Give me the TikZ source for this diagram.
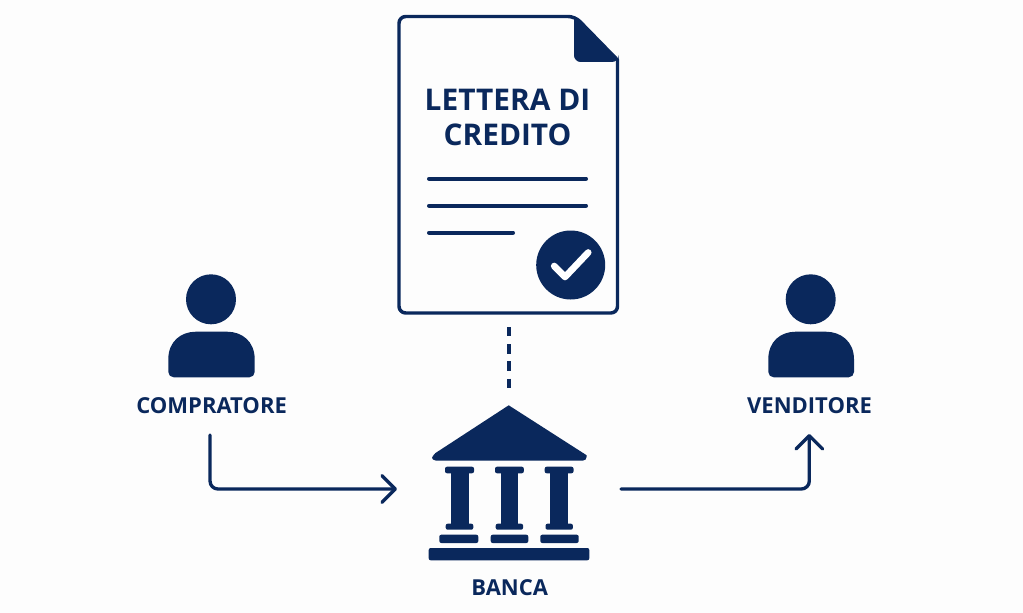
\documentclass[tikz,border=0pt]{standalone}
\usepackage{fontspec}
\setmainfont{Open Sans}
\usetikzlibrary{positioning}
\usetikzlibrary{arrows.meta}
\definecolor{navy}{HTML}{0A285C}
\definecolor{paper}{HTML}{FDFDFD}
\tikzset{
  outline/.style={navy, line width=2.6pt, line join=round},
  textline/.style={navy, line width=3pt, line cap=round},
  flow/.style={navy, line width=2.5pt, line cap=round, rounded corners=6pt, -{Straight Barb[length=10pt, width=20pt, round]}},
  link/.style={navy, line width=2.8pt, dash pattern=on 7pt off 5.9pt},
  solid part/.style={fill=navy, draw=none},
  title text/.style={text=navy, font=\fontsize{22.4}{26.2}\selectfont\bfseries, align=center, inner sep=0pt},
  name text/.style={text=navy, font=\fontsize{16.5}{20}\selectfont\bfseries, inner sep=0pt}
}

\begin{document}
\begin{tikzpicture}[x=0.75pt, y=-0.75pt]
\useasboundingbox[fill=paper] (0, 0) rectangle (1023, 613);

\coordinate (doc) at (399, 16.5);
\draw[outline, rounded corners=5pt] ([shift={(90, 0)}]doc) -- ([shift={(176, 0)}]doc) [sharp corners]-- ([shift={(218.5, 43.5)}]doc) [rounded corners=5pt]-- ([shift={(218.5, 296.5)}]doc) -- ([shift={(0, 296.5)}]doc) -- (doc) -- cycle;
\fill[solid part, rounded corners=5pt] ([shift={(175, 0)}]doc) -- ([shift={(175, 45.5)}]doc) -- ([shift={(219.5, 45.5)}]doc) [sharp corners]-- ([shift={(219.5, 43.5)}]doc) -- ([shift={(176, 0)}]doc) -- cycle;
\node[title text] (title) at (507.5, 117) {LETTERA DI\\CREDITO};
\draw[textline] ([shift={(30, 162.2)}]doc) -- ([shift={(187, 162.2)}]doc);
\draw[textline] ([shift={(30, 189.2)}]doc) -- ([shift={(187, 189.2)}]doc);
\draw[textline] ([shift={(30, 216.2)}]doc) -- ([shift={(114, 216.2)}]doc);
\coordinate (seal) at (570.7, 265);
\fill[solid part] (seal) circle (34.5);
\draw[white, line width=5pt, line cap=round, line join=round] ([shift={(-16.5, 1)}]seal) -- ([shift={(-5.7, 12)}]seal) -- ([shift={(17.5, -12.5)}]seal);

\coordinate (docfoot) at (508.7, 327);
\coordinate (roofup) at (508.7, 388);
\draw[link] (docfoot) -- (roofup);

\coordinate (bank) at (508.7, 405.3);
\fill[solid part] (bank) -- ([shift={(78, 50)}]bank) [rounded corners=3pt]-- ([shift={(78, 55.4)}]bank) -- ([shift={(-76.7, 55.4)}]bank) -- ([shift={(-76.7, 50)}]bank) [sharp corners]-- cycle;

\coordinate (pillarA) at (459.6, 466.7);
\fill[solid part, rounded corners=1.5pt] ([shift={(-14.6, 0)}]pillarA) rectangle ([shift={(14.4, 6.6)}]pillarA);
\fill[solid part] ([shift={(-9, 3)}]pillarA) rectangle ([shift={(9, 60)}]pillarA);
\fill[solid part, rounded corners=1.5pt] ([shift={(-13.9, 57)}]pillarA) rectangle ([shift={(13.7, 63)}]pillarA);
\fill[solid part, rounded corners=1.5pt] (439.3, 534.7) rectangle (478.3, 543);

\coordinate (pillarB) at (509.4, 466.7);
\fill[solid part, rounded corners=1.5pt] ([shift={(-14.4, 0)}]pillarB) rectangle ([shift={(14.4, 6.6)}]pillarB);
\fill[solid part] ([shift={(-8.9, 3)}]pillarB) rectangle ([shift={(8.9, 60)}]pillarB);
\fill[solid part, rounded corners=1.5pt] ([shift={(-13.7, 57)}]pillarB) rectangle ([shift={(13.7, 63)}]pillarB);
\fill[solid part, rounded corners=1.5pt] (490.7, 534.7) rectangle (528.3, 543);

\coordinate (pillarC) at (559.2, 466.7);
\fill[solid part, rounded corners=1.5pt] ([shift={(-14.5, 0)}]pillarC) rectangle ([shift={(14.3, 6.6)}]pillarC);
\fill[solid part] ([shift={(-8.9, 3)}]pillarC) rectangle ([shift={(9.1, 60)}]pillarC);
\fill[solid part, rounded corners=1.5pt] ([shift={(-13.7, 57)}]pillarC) rectangle ([shift={(13.7, 63)}]pillarC);
\fill[solid part, rounded corners=1.5pt] (540.3, 534.7) rectangle (578.7, 543);

\fill[solid part, rounded corners=1.5pt] (428.7, 548) rectangle (589.3, 560.3);
\node[name text] (banca) at (509.7, 587.5) {BANCA};

\coordinate (buyer) at (211, 299.3);
\fill[solid part] (buyer) circle (25);
\fill[solid part] ([shift={(-42.7, 60)}]buyer) .. controls ([shift={(-42.7, 42)}]buyer) and ([shift={(-30, 32.4)}]buyer) .. ([shift={(-15, 32.4)}]buyer) -- ([shift={(16, 32.4)}]buyer) .. controls ([shift={(31, 32.4)}]buyer) and ([shift={(43.7, 42)}]buyer) .. ([shift={(43.7, 60)}]buyer) [rounded corners=4pt]-- ([shift={(43.7, 78)}]buyer) -- ([shift={(-42.7, 78)}]buyer) [sharp corners]-- cycle;
\node[name text] (comp) at (211.6, 405.5) {COMPRATORE};

\coordinate (seller) at (810.7, 299.3);
\fill[solid part] (seller) circle (25);
\fill[solid part] ([shift={(-42.4, 60)}]seller) .. controls ([shift={(-42.4, 42)}]seller) and ([shift={(-30, 32.4)}]seller) .. ([shift={(-15, 32.4)}]seller) -- ([shift={(15, 32.4)}]seller) .. controls ([shift={(30, 32.4)}]seller) and ([shift={(43.3, 42)}]seller) .. ([shift={(43.3, 60)}]seller) [rounded corners=4pt]-- ([shift={(43.3, 78)}]seller) -- ([shift={(-42.4, 78)}]seller) [sharp corners]-- cycle;
\node[name text] (vend) at (809.5, 405.5) {VENDITORE};

\coordinate (buyerfoot) at (210, 435);
\coordinate (bankin) at (397, 489);
\draw[flow] (buyerfoot) |- (bankin);
\coordinate (bankout) at (621, 489);
\coordinate (sellerfoot) at (809.3, 434);
\draw[flow] (bankout) -| (sellerfoot);
\end{tikzpicture}
\end{document}
